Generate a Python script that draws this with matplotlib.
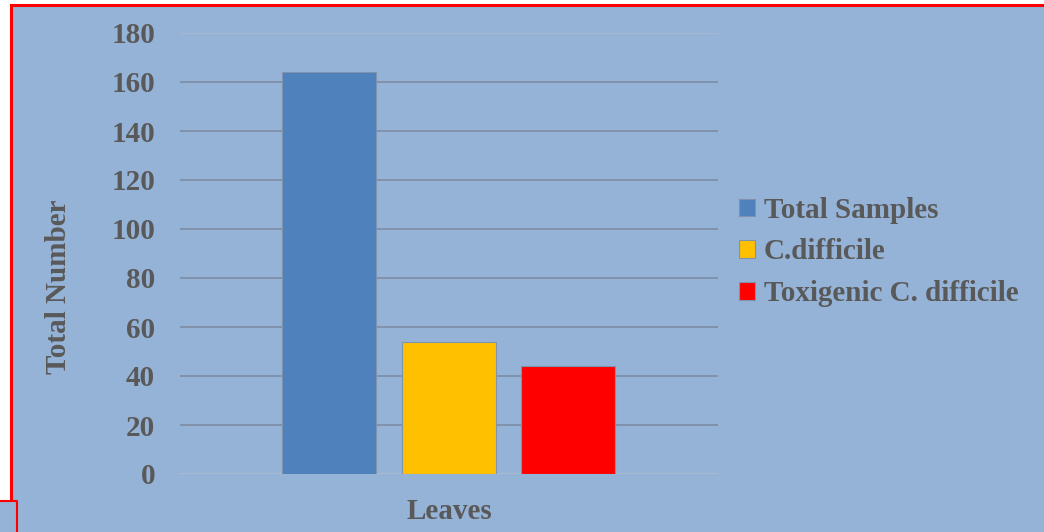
import matplotlib
matplotlib.use("Agg")
import matplotlib.pyplot as plt
from matplotlib.patches import Rectangle
from matplotlib.lines import Line2D

# data
category = "Leaves"
series = ["Total Samples", "C.difficile", "Toxigenic C. difficile"]
values = [164, 54, 44]
colors = ["#4F81BD", "#FFC000", "#FF0000"]
yticks = [0, 20, 40, 60, 80, 100, 120, 140, 160, 180]

BG = "#95B3D7"
TXT = "#595959"
FS = 21
plt.rcParams["font.family"] = ["Liberation Serif", "DejaVu Serif"]
plt.rcParams["font.weight"] = "bold"

fig = plt.figure(figsize=(10.44, 5.32), dpi=100, facecolor=BG)
W, H = 1044, 532

# white margins and red frame
fig.patches.append(Rectangle((0, 1 - 5 / H), 1, 5 / H, transform=fig.transFigure,
                             facecolor="white", edgecolor="none", zorder=0))
fig.patches.append(Rectangle((0, 1 - 500 / H), 11 / W, 495 / H, transform=fig.transFigure,
                             facecolor="white", edgecolor="none", zorder=0))
fig.lines.append(Line2D([11 / W, 1], [1 - 5 / H, 1 - 5 / H], transform=fig.transFigure,
                        color="#FF0000", lw=2.2))
fig.lines.append(Line2D([11 / W, 11 / W], [1 - 5 / H, 1 - 500 / H], transform=fig.transFigure,
                        color="#FF0000", lw=2.2))
fig.lines.append(Line2D([0, 17 / W, 17 / W], [1 - 501 / H, 1 - 501 / H, 0],
                        transform=fig.transFigure, color="#FF0000", lw=1.5))

ax = fig.add_axes([180 / W, 1 - 474 / H, 538 / W, 441 / H])
ax.set_facecolor(BG)

width = 94 / 538
offsets = [-120 / 538, 0, 119 / 538]
for name, v, c, off in zip(series, values, colors, offsets):
    ax.bar(off, v, width, color=c, edgecolor="#7F93AE", linewidth=0.8, label=name, zorder=3)

ax.set_xlim(-0.5, 0.5)
ax.set_ylim(0, 180)
ax.set_yticks(yticks)
ax.set_yticklabels([str(t) for t in yticks], fontsize=FS, fontweight="bold", color=TXT)
ax.set_xticks([])
ax.tick_params(axis="y", length=0, pad=18)
ax.yaxis.grid(True, color="#7F8FA8", linewidth=1.3, zorder=1)
gl = ax.yaxis.get_gridlines()
gl[-1].set_color("#A9B8CC")
gl[0].set_color("#AEBACB")
for s in ax.spines.values():
    s.set_visible(False)

ax.set_ylabel("Total Number", fontsize=FS, fontweight="bold", color=TXT)
ax.yaxis.set_label_coords(-0.20, 0.424)
ax.set_xlabel(category, fontsize=FS, fontweight="bold", color=TXT)
ax.xaxis.set_label_coords(0.5, -0.055)

leg = fig.legend(loc="center left", bbox_to_anchor=(739 / W, 1 - 252 / H), frameon=False,
                 fontsize=FS, handlelength=0.55, handleheight=0.55, handletextpad=0.3,
                 labelspacing=0.5, borderaxespad=0, borderpad=0)
for t in leg.get_texts():
    t.set_color(TXT)
    t.set_fontweight("bold")

fig.savefig("out.png", dpi=100, facecolor=BG)
